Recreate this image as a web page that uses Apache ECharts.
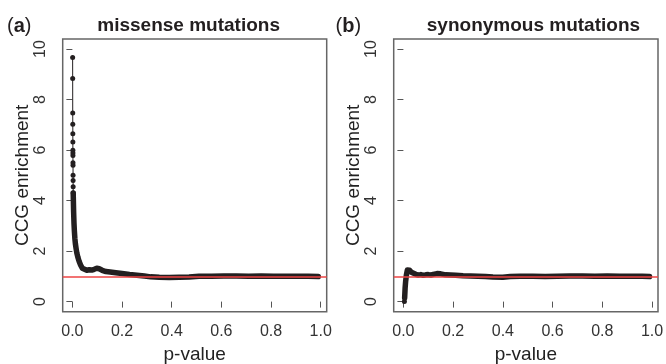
<!DOCTYPE html>
<html>
<head>
<meta charset="utf-8">
<script src="https://cdn.jsdelivr.net/npm/echarts@6/dist/echarts.min.js"></script>
<style>html,body{margin:0;padding:0;background:#fff}#c{width:666px;height:364px}</style>
</head>
<body>
<div id="c"></div>
<script>
// ---- data ----
var xTicks = [0, 0.2, 0.4, 0.6, 0.8, 1.0];
var yTicks = [0, 2, 4, 6, 8, 10];

// (a) missense: sparse top points (p-value, CCG enrichment)
var missenseTopP   = [0.0010, 0.0012, 0.0014, 0.0016, 0.0018, 0.0019, 0.0020, 0.0021, 0.0022, 0.0024, 0.0025, 0.0027, 0.0029, 0.0031, 0.0033];
var missenseTopCCG = [9.67, 8.84, 7.47, 7.02, 6.65, 6.32, 5.99, 5.89, 5.79, 5.50, 5.40, 5.00, 4.80, 4.55, 4.30];
// (a) missense: dense part
var missenseP   = [0.0033, 0.0040, 0.0050, 0.0065, 0.0080, 0.0100, 0.0120, 0.0150, 0.0180, 0.0220, 0.0270, 0.0330, 0.0400, 0.0480, 0.0580, 0.0680, 0.0780, 0.0880, 0.0980, 0.1080, 0.1200, 0.1350, 0.1520, 0.1750, 0.2000, 0.2300, 0.2600, 0.2900, 0.3150, 0.3500, 0.3900, 0.4300, 0.4700, 0.5100, 0.5600, 0.6100, 0.6600, 0.7100, 0.7600, 0.8100, 0.8600, 0.9100, 0.9500, 0.9900];
var missenseCCG = [4.30, 4.00, 3.55, 3.10, 2.80, 2.50, 2.30, 2.10, 1.92, 1.76, 1.60, 1.45, 1.32, 1.25, 1.24, 1.26, 1.25, 1.28, 1.32, 1.30, 1.24, 1.19, 1.17, 1.14, 1.11, 1.07, 1.04, 1.01, 0.98, 0.96, 0.95, 0.96, 0.97, 1.00, 1.00, 1.01, 1.01, 1.00, 1.01, 1.00, 1.00, 1.00, 1.00, 0.99];

// (b) synonymous
var synTopP   = [0.0040];
var synTopCCG = [0.00];
var synP   = [0.0050, 0.0060, 0.0070, 0.0090, 0.0120, 0.0160, 0.0200, 0.0250, 0.0320, 0.0400, 0.0500, 0.0600, 0.0700, 0.0800, 0.0900, 0.1000, 0.1100, 0.1200, 0.1350, 0.1500, 0.1700, 0.1900, 0.2100, 0.2400, 0.2700, 0.3000, 0.3300, 0.3600, 0.4000, 0.4300, 0.4700, 0.5200, 0.5700, 0.6200, 0.6700, 0.7200, 0.7700, 0.8200, 0.8700, 0.9200, 0.9600, 0.9900];
var synCCG = [0.15, 0.35, 0.55, 0.80, 1.05, 1.25, 1.30, 1.24, 1.16, 1.11, 1.08, 1.05, 1.07, 1.04, 1.06, 1.07, 1.05, 1.08, 1.11, 1.10, 1.06, 1.05, 1.04, 1.02, 1.01, 1.00, 0.99, 0.97, 0.96, 0.99, 1.00, 1.00, 0.99, 1.00, 1.01, 1.01, 1.00, 1.01, 1.00, 1.00, 1.00, 0.99];

var refLine = 1;
var titles = ['missense mutations', 'synonymous mutations'];
var panelTags = ['a', 'b'];

function zip(a, b) { return a.map(function (v, i) { return [v, b[i]]; }); }

var FONT = '"Liberation Sans", Arial, Helvetica, sans-serif';
var INK = '#231f20';

function xAx(i) {
  return {
    type: 'value', gridIndex: i, min: -0.039, max: 1.024,
    name: 'p-value', nameLocation: 'middle', nameGap: 34,
    nameTextStyle: { fontFamily: FONT, fontSize: 19, color: '#222' },
    axisLine: { show: false },
    axisTick: { show: true, length: 6, lineStyle: { color: '#555', width: 1 }, customValues: xTicks },
    axisLabel: { fontFamily: FONT, fontSize: 16, color: '#333', margin: 12, customValues: xTicks,
      formatter: function (v) { return v.toFixed(1); } },
    splitLine: { show: false }
  };
}
function yAx(i) {
  return {
    type: 'value', gridIndex: i, min: -0.4, max: 10.4,
    name: 'CCG enrichment', nameLocation: 'middle', nameGap: 30, nameRotate: 90,
    nameTextStyle: { fontFamily: FONT, fontSize: 19, color: '#222' },
    axisLine: { show: false },
    axisTick: { show: true, length: 6, lineStyle: { color: '#555', width: 1 }, customValues: yTicks },
    axisLabel: { fontFamily: FONT, fontSize: 16, color: '#333', margin: 14, rotate: 90, customValues: yTicks,
      formatter: function (v) { return String(Math.round(v)); } },
    splitLine: { show: false }
  };
}

var chart = echarts.init(document.getElementById('c'), null, { renderer: 'canvas' });
chart.setOption({
  animation: false,
  backgroundColor: '#fff',
  grid: [
    { left: 62.7, top: 39, width: 264, height: 272.7, show: true, borderColor: '#666', borderWidth: 1.5, backgroundColor: 'transparent', containLabel: false, outerBoundsMode: 'none' },
    { left: 393.7, top: 39, width: 264.3, height: 272.7, show: true, borderColor: '#666', borderWidth: 1.5, backgroundColor: 'transparent', containLabel: false, outerBoundsMode: 'none' }
  ],
  xAxis: [xAx(0), xAx(1)],
  yAxis: [yAx(0), yAx(1)],
  graphic: [
    { type: 'text', left: 192.3 - 95, top: 16, style: { text: titles[0], font: 'bold 19px ' + FONT, fill: INK } },
    { type: 'text', left: 532.8 - 106, top: 16, style: { text: titles[1], font: 'bold 19px ' + FONT, fill: INK } },
    { type: 'text', left: 7, top: 16, style: { text: '{n|(}{b|' + panelTags[0] + '}{n|)}', rich: { n: { font: '20px ' + FONT, fill: INK }, b: { font: 'bold 20px ' + FONT, fill: INK } } } },
    { type: 'text', left: 335.5, top: 16, style: { text: '{n|(}{b|' + panelTags[1] + '}{n|)}', rich: { n: { font: '20px ' + FONT, fill: INK }, b: { font: 'bold 20px ' + FONT, fill: INK } } } }
  ],
  series: [
    { type: 'line', xAxisIndex: 0, yAxisIndex: 0, data: zip(missenseTopP, missenseTopCCG),
      symbol: 'circle', symbolSize: 5, showSymbol: true, itemStyle: { color: INK },
      lineStyle: { color: INK, width: 1 }, z: 3 },
    { type: 'line', xAxisIndex: 0, yAxisIndex: 0, data: zip(missenseP, missenseCCG),
      symbol: 'none', lineStyle: { color: INK, width: 5.5, join: 'round', cap: 'round' }, z: 3 },
    { type: 'line', xAxisIndex: 0, yAxisIndex: 0, data: [], z: 5,
      markLine: { silent: true, symbol: 'none', label: { show: false }, lineStyle: { color: '#ee4444', width: 1.5, type: 'solid' }, data: [{ yAxis: refLine }] } },
    { type: 'line', xAxisIndex: 1, yAxisIndex: 1, data: zip(synTopP, synTopCCG),
      symbol: 'circle', symbolSize: 5, showSymbol: true, itemStyle: { color: INK },
      lineStyle: { color: INK, width: 1 }, z: 3 },
    { type: 'line', xAxisIndex: 1, yAxisIndex: 1, data: zip(synP, synCCG),
      symbol: 'none', lineStyle: { color: INK, width: 5.5, join: 'round', cap: 'round' }, z: 3 },
    { type: 'line', xAxisIndex: 1, yAxisIndex: 1, data: [], z: 5,
      markLine: { silent: true, symbol: 'none', label: { show: false }, lineStyle: { color: '#ee4444', width: 1.5, type: 'solid' }, data: [{ yAxis: refLine }] } }
  ]
});
</script>
</body>
</html>
